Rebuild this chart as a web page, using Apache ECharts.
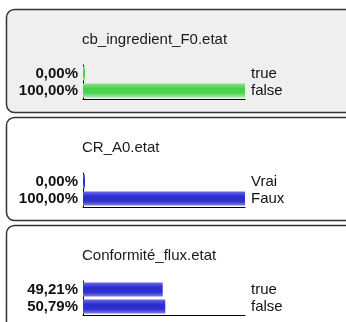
<!DOCTYPE html>
<html>
<head>
<meta charset="utf-8">
<script src="https://cdn.jsdelivr.net/npm/echarts@6/dist/echarts.min.js"></script>
<style>
  html, body { margin: 0; padding: 0; background: #ffffff; }
  #chart { width: 346px; height: 322px; }
</style>
</head>
<body>
<div id="chart"></div>
<script>
// Variable names shown above each panel
const panelTitles = ['cb_ingredient_F0.etat', 'CR_A0.etat', 'Conformité_flux.etat'];

// Categories (right-hand labels) per panel
const categoriesA = ['true', 'false'];
const categoriesB = ['Vrai', 'Faux'];
const categoriesC = ['true', 'false'];

// Share of each state, in percent
const percentA = [0, 100];
const percentB = [0, 100];
const percentC = [49.21, 50.79];

const panels = [
  { title: panelTitles[0], cats: categoriesA, vals: percentA, color: 'green', bg: '#efefef' },
  { title: panelTitles[1], cats: categoriesB, vals: percentB, color: 'blue', bg: '#ffffff' },
  { title: panelTitles[2], cats: categoriesC, vals: percentC, color: 'blue', bg: '#ffffff' }
];

const FONT = '"Liberation Sans", Arial, Helvetica, sans-serif';
const PANEL_STEP = 108;

function fmtPercent(v) {
  return v.toFixed(2).replace('.', ',') + '%';
}

function barGradient(kind) {
  const stops = kind === 'green'
    ? [
        { offset: 0, color: '#8fe48f' },
        { offset: 0.35, color: '#48d048' },
        { offset: 0.7, color: '#52d452' },
        { offset: 1, color: '#a8eca8' }
      ]
    : [
        { offset: 0, color: '#6a6ae4' },
        { offset: 0.35, color: '#2c2cd0' },
        { offset: 0.7, color: '#3232cc' },
        { offset: 1, color: '#7c7ce6' }
      ];
  return new echarts.graphic.LinearGradient(0, 0, 0, 1, stops);
}

const grid = [], xAxis = [], yAxis = [], series = [], graphics = [];

panels.forEach((p, i) => {
  const off = i * PANEL_STEP;

  // Rounded panel frame
  graphics.push({
    type: 'rect',
    z: -10,
    shape: { x: 6.5, y: 9.5 + off, width: 380, height: i === 2 ? 130 : 103, r: 8 },
    style: { fill: p.bg, stroke: '#333333', lineWidth: 1.5 }
  });

  // Panel heading
  graphics.push({
    type: 'text',
    x: 82,
    y: 40 + off,
    style: {
      text: p.title,
      font: '15px ' + FONT,
      fill: '#1a1a1a',
      textAlign: 'left',
      textVerticalAlign: 'middle'
    }
  });

  grid.push({ left: 83, top: 65 + off, width: 162, height: 34, containLabel: false });

  xAxis.push({
    type: 'value',
    gridIndex: i,
    min: 0,
    max: 100,
    axisLine: { show: true, lineStyle: { color: '#000000', width: 1 } },
    axisTick: { show: false },
    axisLabel: { show: false },
    splitLine: { show: false }
  });

  // Left axis: percentage of each category
  yAxis.push({
    type: 'category',
    gridIndex: i,
    inverse: true,
    data: p.cats,
    axisLine: { show: true, lineStyle: { color: '#000000', width: 1 } },
    axisTick: { show: false },
    axisLabel: {
      interval: 0,
      margin: 5,
      fontFamily: FONT,
      fontSize: 15,
      fontWeight: 'bold',
      color: '#111111',
      formatter: (v, idx) => fmtPercent(p.vals[idx])
    }
  });

  // Right axis: category names
  yAxis.push({
    type: 'category',
    gridIndex: i,
    position: 'right',
    inverse: true,
    data: p.cats,
    axisLine: { show: false },
    axisTick: { show: false },
    axisLabel: {
      interval: 0,
      margin: 6,
      fontFamily: FONT,
      fontSize: 15,
      color: '#111111'
    }
  });

  series.push({
    type: 'bar',
    xAxisIndex: i,
    yAxisIndex: i * 2,
    data: p.vals,
    barWidth: 14,
    barMinHeight: 2,
    itemStyle: { color: barGradient(p.color) },
    silent: true
  });
});

const chart = echarts.init(document.getElementById('chart'), null, { renderer: 'canvas' });
chart.setOption({
  animation: false,
  backgroundColor: '#ffffff',
  grid: grid,
  xAxis: xAxis,
  yAxis: yAxis,
  series: series,
  graphic: graphics
});
</script>
</body>
</html>
